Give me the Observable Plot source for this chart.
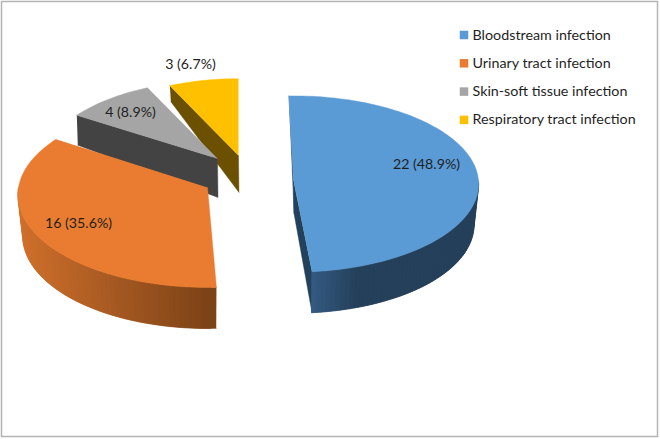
<!DOCTYPE html>
<html>
<head>
<meta charset="utf-8">
<script src="https://cdn.jsdelivr.net/npm/d3@7"></script>
<script src="https://cdn.jsdelivr.net/npm/@observablehq/plot@0.6"></script>
<style>html,body{margin:0;padding:0;background:#fff}svg{display:block}</style>
</head>
<body>
<div id="chart"></div>
<script>
// --- data ---
const categories = ["Bloodstream infection", "Urinary tract infection", "Skin-soft tissue infection", "Respiratory tract infection"];
const counts = [22, 16, 4, 3];

// --- styles ---
const topColors = ["#5b9bd5", "#ea7c31", "#a5a5a5", "#ffc000"];
const edgeColors = ["#24415c", "#7b4217", "#434343", "#6b5000"];
const rimStops = [
  {x: [312, 362], c: ["#355d86", "#25405a"]},
  {x: [20, 216], c: ["#d0702c", "#7b4217"]},
  null,
  null
];

// --- layout of each exploded slice (3D projection parameters) ---
const layout = [
  {ax: 293, ay: 180, a: 185, b: 88, k: 0.04, d0: 0, d1: 0, cornerDepth: 15, apexDepth: 33, rimDepth: 41, edges: ["start", "end"], lx: 426, ly: 164},
  {ax: 207, ay: 187, a: 189, b: 92, k: 0.08, d0: 3, d1: 0.7, rimDepth: 41, edges: [], lx: 78, ly: 223},
  {ax: 217, ay: 158, a: 174, b: 84, k: 0.08, d0: 0, d1: 0, cornerDepth: 30, apexDepth: 39, rimDepth: 40, edges: ["start"], lx: 130, ly: 112},
  {ax: 238, ay: 155, a: 171, b: 83, k: 0.08, d0: 0, d1: 1.5, cornerDepth: 16, apexDepth: 37, rimDepth: 40, edges: ["start"], lx: 190, ly: 64}
];
const startAngle = -1.5;
const shrink = 0.975;

const total = d3.sum(counts);
const rad = Math.PI / 180;
function project(g, deg) {
  const t = deg * rad, s = 1 / (1 + g.k * Math.cos(t));
  return [g.ax + g.a * Math.sin(t) * s, g.ay - g.b * Math.cos(t) * s];
}
function lower(g, p, depth) { return [g.ax + (p[0] - g.ax) * shrink, p[1] + depth]; }

const polys = [];
let pid = 0;
function addPoly(pts, color) {
  const id = pid++;
  for (const p of pts) polys.push({id, x: p[0], y: p[1], color});
}

// slices from the counts; painted back to front
const slices = [];
let acc = startAngle;
counts.forEach((v, i) => {
  const span = v / total * 360;
  slices.push({i, from: acc + layout[i].d0, to: acc + span + layout[i].d1});
  acc += span;
});

for (const i of [3, 2, 1, 0]) {
  const g = layout[i], s = slices.find(d => d.i === i);
  const apex = [g.ax, g.ay];
  // straight cut walls
  for (const e of g.edges) {
    const c = project(g, e === "start" ? s.from : s.to);
    const depth = e === "start" ? g.cornerDepth : g.rimDepth;
    const cb = [c[0] + (e === "start" ? 1 : 0), c[1] + depth];
    const ab = [g.ax + 0.5, g.ay + g.apexDepth];
    addPoly([c, apex, ab, cb], edgeColors[i]);
  }
  // curved rim, in overlapping strips so that the shading can change along it
  const a0 = Math.max(s.from, 90), a1 = Math.min(s.to, 270);
  if (a1 > a0 && rimStops[i]) {
    const col = d3.scaleLinear().domain(rimStops[i].x).range(rimStops[i].c).clamp(true);
    const n = Math.ceil((a1 - a0) / 1.5);
    const at = j => a0 + (a1 - a0) * Math.min(j, n) / n;
    for (let j = n - 1; j >= 0; j--) {
      const p = project(g, at(j)), q = project(g, at(j + 2)), mid = project(g, at(j + 0.5));
      addPoly([p, q, lower(g, q, g.rimDepth), lower(g, p, g.rimDepth)], col(mid[0]));
    }
  }
  // top face
  const top = [apex];
  const m = Math.ceil((s.to - s.from) / 1.5);
  for (let j = 0; j <= m; j++) top.push(project(g, s.from + (s.to - s.from) * j / m));
  addPoly(top, topColors[i]);
}

const labels = counts.map((v, i) => ({
  x: layout[i].lx, y: layout[i].ly,
  text: `${v} (${(v / total * 100).toFixed(1)}%)`
}));
const legend = categories.map((name, i) => ({name, i, color: topColors[i], y: 34.5 + i * 28.3}));

const plot = Plot.plot({
  width: 660, height: 439,
  margin: 0,
  x: {domain: [0, 660], range: [0, 660], axis: null},
  y: {domain: [0, 439], range: [0, 439], axis: null},
  color: {type: "identity"},
  style: {background: "#fff", fontFamily: "Lato, sans-serif"},
  marks: [
    Plot.rect([{}], {x1: () => 1.5, x2: () => 657.5, y1: () => 1.5, y2: () => 436.5, fill: "none", stroke: "#b4b4b4", strokeWidth: 1.5}),
    Plot.line(polys, {x: "x", y: "y", z: "id", fill: "color", stroke: "color", strokeWidth: 0.4, curve: "linear"}),
    Plot.text(labels, {x: "x", y: "y", text: "text", fontSize: 14.2, fill: "#1f1f1f"}),
    Plot.dot(legend, {x: () => 463.5, y: "y", symbol: "square", r: 4.8, fill: "color"}),
    Plot.text(legend, {x: () => 472, y: "y", text: "name", textAnchor: "start", fontSize: 14.3, fill: "#1f1f1f"})
  ]
});
document.getElementById("chart").appendChild(plot);
</script>
</body>
</html>
